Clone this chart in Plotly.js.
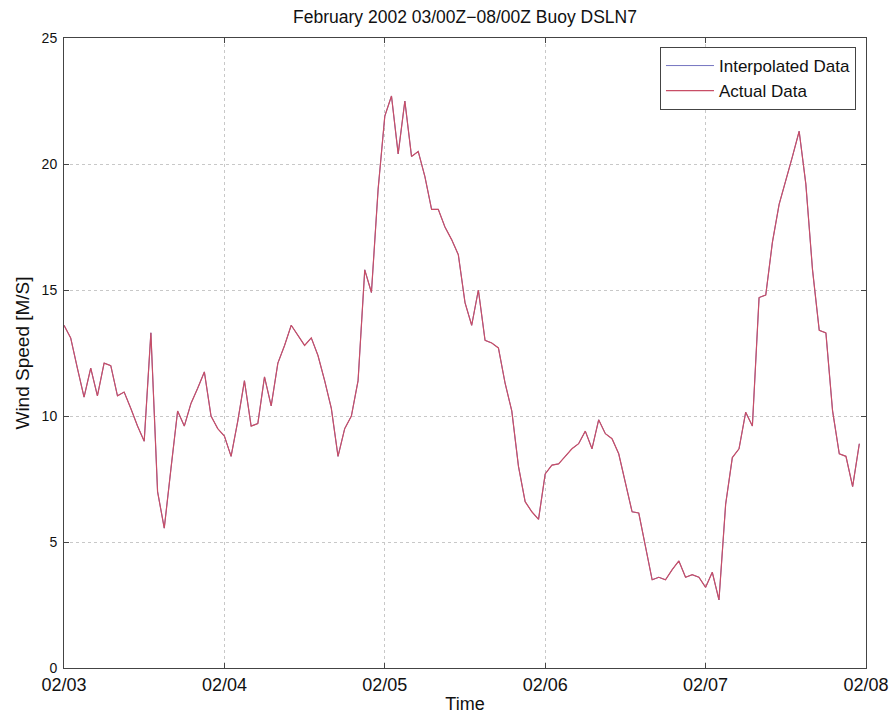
<!DOCTYPE html>
<html>
<head>
<meta charset="utf-8">
<script src="https://cdn.plot.ly/plotly-3.0.1.min.js"></script>
<style>html,body{margin:0;padding:0;background:#fff;}#chart{width:891px;height:721px;}</style>
</head>
<body>
<div id="chart"></div>
<script>
// Hourly wind speed [m/s], starting 2002-02-03 00Z
const startTime = '2002-02-03T00:00:00Z';
const windSpeed = [
  13.6, 13.1, 11.9, 10.75, 11.9, 10.8, 12.1, 12.0, 10.8, 10.95,
  10.3, 9.6, 9.0, 13.3, 7.0, 5.55, 7.9, 10.2, 9.6, 10.5,
  11.1, 11.75, 10.0, 9.5, 9.2, 8.4, 9.8, 11.4, 9.6, 9.7,
  11.55, 10.4, 12.1, 12.8, 13.6, 13.2, 12.8, 13.1, 12.4, 11.4,
  10.3, 8.4, 9.5, 10.0, 11.4, 15.8, 14.9, 19.0, 21.9, 22.7,
  20.4, 22.5, 20.3, 20.5, 19.5, 18.2, 18.2, 17.5, 17.0, 16.4,
  14.5, 13.6, 15.0, 13.0, 12.9, 12.7, 11.3, 10.2, 8.0, 6.6,
  6.2, 5.9, 7.7, 8.05, 8.1, 8.4, 8.7, 8.9, 9.4, 8.7,
  9.85, 9.3, 9.1, 8.5, 7.4, 6.2, 6.15, 4.8, 3.5, 3.6,
  3.5, 3.9, 4.25, 3.6, 3.7, 3.6, 3.2, 3.8, 2.7, 6.5,
  8.35, 8.7, 10.15, 9.6, 14.7, 14.8, 16.9, 18.4, 19.3, 20.3,
  21.3, 19.2, 15.8, 13.4, 13.3, 10.2, 8.5, 8.4, 7.2, 8.9
];
const xTickVals = ['2002-02-03', '2002-02-04', '2002-02-05', '2002-02-06', '2002-02-07', '2002-02-08'];
const xTickText = ['02/03', '02/04', '02/05', '02/06', '02/07', '02/08'];
const seriesNames = ['Interpolated Data', 'Actual Data'];

const t0 = new Date(startTime).getTime();
const times = windSpeed.map((_, i) => {
  const d = new Date(t0 + i * 3600000);
  return d.toISOString().slice(0, 19).replace('T', ' ');
});

const fam = 'Liberation Sans, Arial, sans-serif';

const traces = [
  {x: times, y: windSpeed, type: 'scatter', mode: 'lines', name: seriesNames[0],
   line: {color: '#7575c0', width: 1}},
  {x: times, y: windSpeed, type: 'scatter', mode: 'lines', name: seriesNames[1],
   line: {color: '#c84e66', width: 1.2}}
];

const layout = {
  width: 891, height: 721,
  margin: {l: 64, r: 25, t: 38, b: 53},
  paper_bgcolor: '#fff', plot_bgcolor: '#fff',
  font: {family: fam, size: 14, color: '#000'},
  showlegend: true,
  title: {text: 'February 2002 03/00Z\u221208/00Z Buoy DSLN7', font: {family: fam, size: 17.5, color: '#111'},
          x: 0.5, xref: 'paper', xanchor: 'center', y: 1 - 17 / 721, yref: 'container', yanchor: 'middle'},
  xaxis: {
    type: 'date',
    range: ['2002-02-03 00:00', '2002-02-08 00:00'],
    tickmode: 'array', tickvals: xTickVals, ticktext: xTickText,
    showgrid: true, gridcolor: '#c8c8c8', griddash: 'dot', gridwidth: 1,
    showline: true, linecolor: '#444', linewidth: 1, mirror: 'ticks',
    ticks: 'inside', ticklen: 5, tickcolor: '#444',
    zeroline: false, ticklabelstandoff: 0,
    tickfont: {family: fam, size: 18, color: '#111'},
    title: {text: 'Time', font: {family: fam, size: 18, color: '#111'}, standoff: 3}
  },
  yaxis: {
    range: [0, 25], dtick: 5, tick0: 0,
    showgrid: true, gridcolor: '#c8c8c8', griddash: 'dot', gridwidth: 1,
    showline: true, linecolor: '#444', linewidth: 1, mirror: 'ticks',
    ticks: 'inside', ticklen: 5, tickcolor: '#444',
    zeroline: false, ticklabelstandoff: 3,
    tickfont: {family: fam, size: 14, color: '#111'},
    title: {text: 'Wind Speed [M/S]', font: {family: fam, size: 19, color: '#111'}, standoff: 6}
  },
  legend: {
    x: 0.9875, xanchor: 'right', y: 0.9857, yanchor: 'top',
    bgcolor: '#fff', bordercolor: '#444', borderwidth: 1,
    font: {family: fam, size: 17, color: '#111'},
    tracegroupgap: 0, itemwidth: 48
  },
  hovermode: false
};

Plotly.newPlot('chart', traces, layout, {displayModeBar: false, staticPlot: true});
</script>
</body>
</html>
